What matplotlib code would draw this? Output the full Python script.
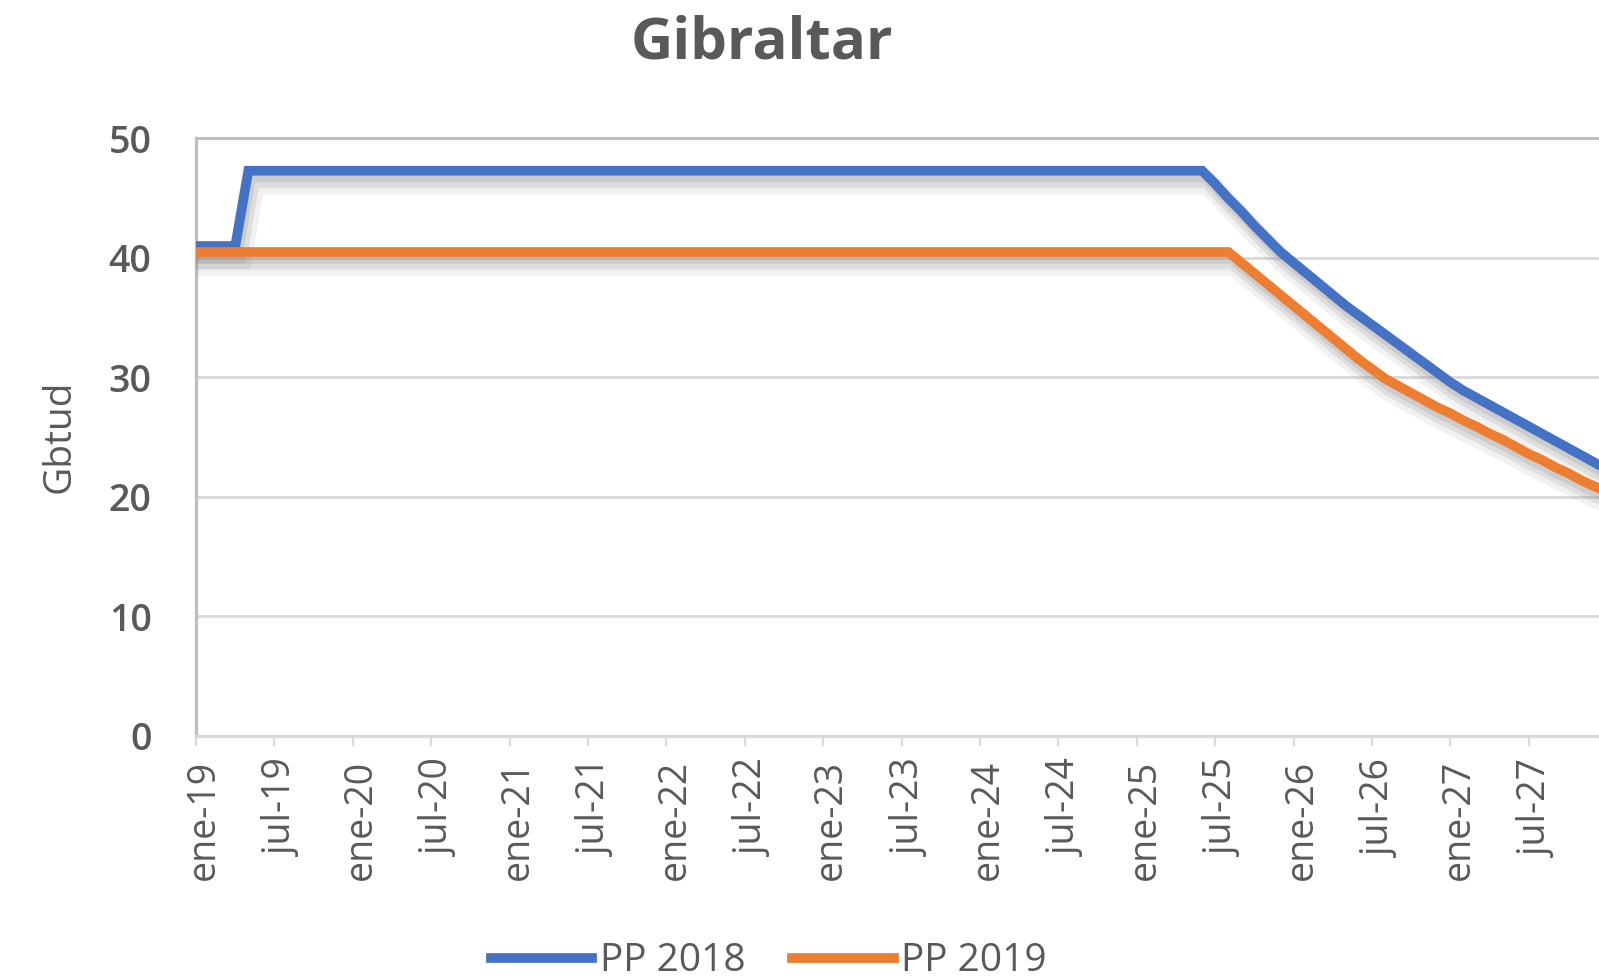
import matplotlib.pyplot as plt
import matplotlib.patheffects as pe
import matplotlib.transforms as mtransforms

plt.rcParams['font.family'] = ['Open Sans', 'DejaVu Sans']

# months counted from ene-19 (0 = ene-19)
months = list(range(0, 109))

pp_2018 = ([41.0] * 4 + [47.3] * 74 +
           [46.2, 45.0, 43.9, 42.7, 41.6, 40.5, 39.6, 38.7, 37.8, 36.9,
            36.0, 35.2, 34.4, 33.6, 32.8, 32.0, 31.2, 30.4, 29.6, 28.9,
            28.3, 27.7, 27.1, 26.5, 25.9, 25.3, 24.7, 24.1, 23.5, 22.9,
            22.3])

pp_2019 = ([40.5] * 80 +
           [39.6, 38.7, 37.8, 36.9, 36.0, 35.1, 34.2, 33.3, 32.4, 31.5,
            30.7, 29.9, 29.3, 28.7, 28.1, 27.5, 27.0, 26.4, 25.9, 25.3,
            24.8, 24.2, 23.6, 23.1, 22.5, 22.0, 21.4, 20.9, 20.4])

tick_months = list(range(0, 103, 6))
tick_labels = ['ene-19', 'jul-19', 'ene-20', 'jul-20', 'ene-21', 'jul-21',
               'ene-22', 'jul-22', 'ene-23', 'jul-23', 'ene-24', 'jul-24',
               'ene-25', 'jul-25', 'ene-26', 'jul-26', 'ene-27', 'jul-27']

blue = '#4472C4'
orange = '#ED7D31'
text_col = '#595959'

fig = plt.figure(figsize=(15.99, 9.8), dpi=100)
ax = fig.add_axes([0.1226, 0.249, 0.9806, 0.6097])

# soft grey drop shadow like the Excel line effect
shadow = [pe.SimpleLineShadow(offset=(4, -9), shadow_color='#7f7f7f', alpha=0.10, linewidth=16),
          pe.SimpleLineShadow(offset=(3, -7), shadow_color='#7f7f7f', alpha=0.16, linewidth=11),
          pe.SimpleLineShadow(offset=(2, -5), shadow_color='#7f7f7f', alpha=0.18),
          pe.Normal()]

ax.plot(months, pp_2018, color=blue, lw=7, label='PP 2018',
        solid_joinstyle='miter', path_effects=shadow, zorder=3)
ax.plot(months, pp_2019, color=orange, lw=7, label='PP 2019',
        solid_joinstyle='miter', path_effects=shadow, zorder=4)

ax.set_xlim(0, 120)
ax.set_ylim(0, 50)
ax.set_yticks([0, 10, 20, 30, 40, 50])
ax.set_xticks(tick_months)
ax.set_xticklabels(tick_labels, rotation=90, ha='center', va='top')

ax.grid(axis='y', color='#D9D9D9', lw=2)
ax.set_axisbelow(True)
ax.spines['right'].set_visible(False)
ax.spines['left'].set_color('#BFBFBF')
ax.spines['left'].set_linewidth(2.4)
ax.spines['top'].set_color('#BFBFBF')
ax.spines['top'].set_linewidth(2.2)
ax.spines['bottom'].set_color('#D9D9D9')
ax.spines['bottom'].set_linewidth(2.2)

ax.tick_params(axis='y', length=0, pad=32, labelsize=27, labelcolor=text_col)
ax.tick_params(axis='x', length=7, width=1.6, color='#D9D9D9', pad=10,
               labelsize=27, labelcolor=text_col)
for lab in ax.get_yticklabels():
    lab.set_fontweight('semibold')

offset = mtransforms.ScaledTranslation(0.08, 0, fig.dpi_scale_trans)
for lab in ax.get_xticklabels():
    lab.set_transform(lab.get_transform() + offset)

fig.text(0.4767, 0.956, 'Gibraltar', ha='center', va='center',
         fontsize=42, fontweight='bold', color=text_col)
fig.text(0.0372, 0.555, 'Gbtud', ha='center', va='center', rotation=90,
         fontsize=28, color=text_col)

leg = fig.legend(loc='center', bbox_to_anchor=(0.481, 0.019), ncol=2,
                 frameon=False, fontsize=28, handlelength=2.6,
                 handletextpad=0.2, columnspacing=1.2)
for t in leg.get_texts():
    t.set_color(text_col)
for h in leg.get_lines():
    h.set_path_effects([pe.Normal()])

fig.savefig('out.png', dpi=100)
